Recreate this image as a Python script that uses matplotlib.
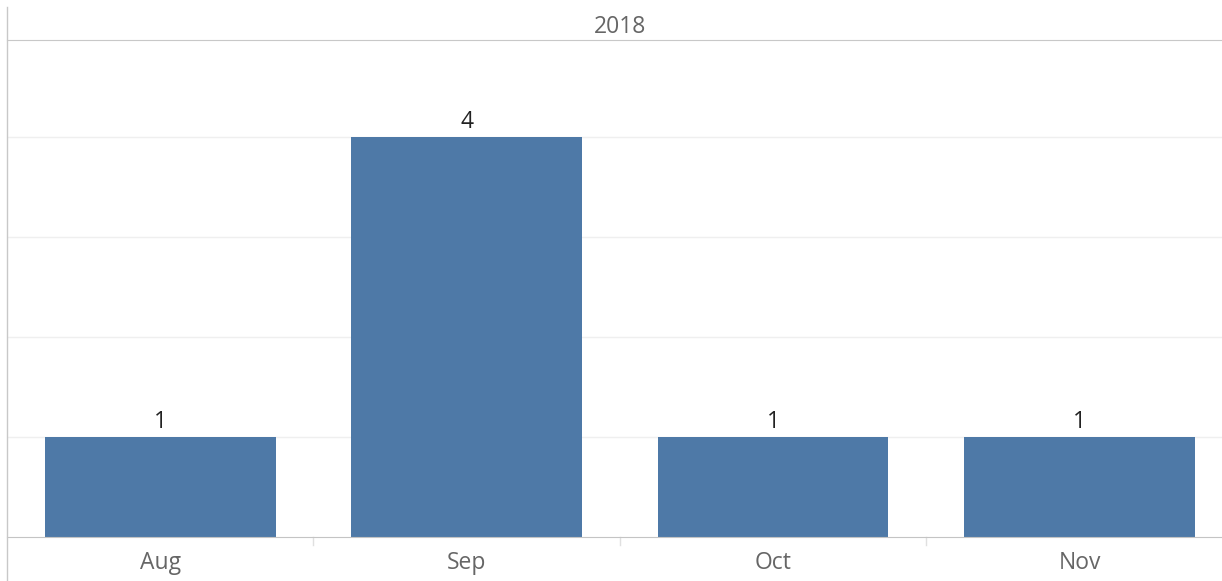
import matplotlib
matplotlib.use('Agg')
import matplotlib.pyplot as plt
from matplotlib.lines import Line2D

# Данные
months = ['Aug', 'Sep', 'Oct', 'Nov']
counts = [1, 4, 1, 1]
year = '2018'

plt.rcParams['font.family'] = ['Open Sans', 'DejaVu Sans']
FS = 16.5

W, H = 1222, 581
fig = plt.figure(figsize=(W / 100, H / 100), dpi=100)
ax = fig.add_axes([7 / W, (H - 537) / H, 1 - 7 / W, (537 - 40) / H])

x = range(len(months))
ax.bar(x, counts, width=0.753, color='#4e79a7', zorder=2)
for xi, v in zip(x, counts):
    ax.text(xi, v + 0.03, str(v), ha='center', va='bottom', fontsize=FS, color='#222222')

# последняя колонка обрезана справа
ax.set_xlim(-0.5, len(months) - 0.535)
ax.set_ylim(0, 4.97)
ax.set_yticks([1, 2, 3, 4])
ax.yaxis.grid(True, color='#efefef', lw=1, zorder=0)
ax.tick_params(axis='y', left=False, labelleft=False)

ax.set_xticks(list(x))
ax.set_xticklabels(months, fontsize=FS, color='#666666')
ax.tick_params(axis='x', length=0, pad=10)
# разделители между месяцами
for b in [0.5, 1.5, 2.5]:
    ax.plot([b, b], [0, -0.08], color='#e0e0e0', lw=1, clip_on=False)

ax.spines['right'].set_visible(False)
ax.spines['left'].set_visible(False)
ax.spines['top'].set_color('#c8c8c8')
ax.spines['bottom'].set_color('#c4c4c4')

# рамка заголовка слева
fig.add_artist(Line2D([6.5 / W, 6.5 / W], [0, (H - 7) / H], color='#c8c8c8', lw=1))
fig.text(620 / W, (H - 27) / H, year, ha='center', va='center', fontsize=FS, color='#666666')

fig.savefig('out.png', dpi=100)
